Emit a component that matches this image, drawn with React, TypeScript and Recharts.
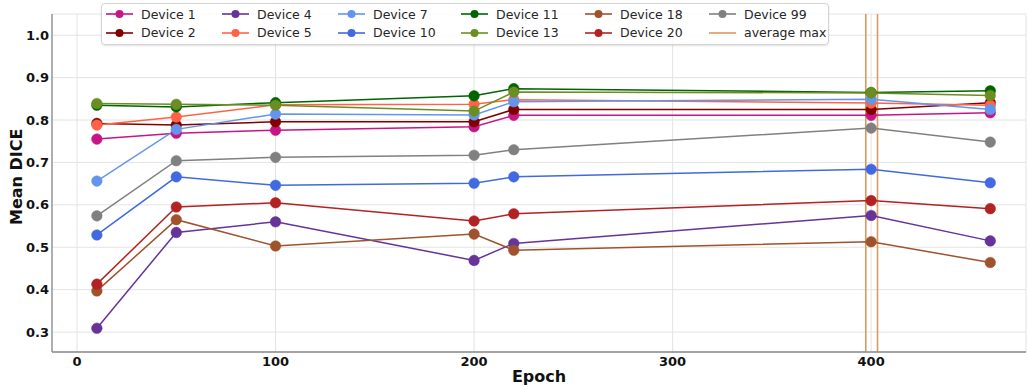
import React from "react";
import { LineChart, Line, XAxis, YAxis, CartesianGrid, ReferenceLine, Legend } from "recharts";

// epochs at which each device was evaluated
const epochs = [10, 50, 100, 200, 220, 400, 460];

const device1 = [0.755, 0.769, 0.776, 0.784, 0.811, 0.811, 0.817];
const device2 = [0.792, 0.788, 0.796, 0.796, 0.825, 0.825, 0.841];
const device4 = [0.309, 0.535, 0.560, 0.469, 0.509, 0.575, 0.515];
const device5 = [0.788, 0.807, 0.836, 0.837, 0.848, 0.840, 0.835];
const device7 = [0.656, 0.778, 0.814, 0.812, 0.843, 0.849, 0.825];
const device10 = [0.529, 0.666, 0.646, 0.651, 0.666, 0.684, 0.652];
const device11 = [0.835, 0.831, 0.841, 0.857, 0.874, 0.865, 0.869];
const device13 = [0.839, 0.837, 0.835, 0.821, 0.866, 0.864, 0.858];
const device18 = [0.397, 0.565, 0.503, 0.531, 0.493, 0.513, 0.464];
const device20 = [0.413, 0.595, 0.605, 0.562, 0.579, 0.610, 0.591];
const device99 = [0.574, 0.704, 0.712, 0.717, 0.730, 0.781, 0.748];

// two vertical markers for the average max epoch
const averageMax = [397.3, 403.2];

const xTicks = [0, 100, 200, 300, 400];
const yTicks = [0.3, 0.4, 0.5, 0.6, 0.7, 0.8, 0.9, 1.0];

const series = [
  { key: "Device 1", values: device1, color: "#C71585" },
  { key: "Device 2", values: device2, color: "#800000" },
  { key: "Device 4", values: device4, color: "#663399" },
  { key: "Device 5", values: device5, color: "#FF6347" },
  { key: "Device 7", values: device7, color: "#6495ED" },
  { key: "Device 10", values: device10, color: "#4169E1" },
  { key: "Device 11", values: device11, color: "#006400" },
  { key: "Device 13", values: device13, color: "#6B8E23" },
  { key: "Device 18", values: device18, color: "#A0522D" },
  { key: "Device 20", values: device20, color: "#B22222" },
  { key: "Device 99", values: device99, color: "#808080" },
];

const avgColor = "#D99A5E";
const spineColor = "#8a8a8a";
const font = "'DejaVu Sans', sans-serif";

const data = epochs.map((epoch, i) => {
  const row: any = { epoch };
  series.forEach((s) => {
    row[s.key] = s.values[i];
  });
  return row;
});

const tickStyle = { fontSize: 13, fontWeight: "bold", fill: "#111", fontFamily: font };

const renderLegend = () => {
  const items = [
    ...series.map((s) => ({ label: s.key, color: s.color, dot: true })),
    { label: "average max", color: avgColor, dot: false },
  ];
  return (
    <div
      style={{
        display: "grid",
        gridTemplateRows: "18px 19px",
        gridAutoFlow: "column",
        gridTemplateColumns: "116px 116px 123px 124px 124px 120px",
        padding: "1px 0 2px 3px",
        background: "rgba(255,255,255,0.85)",
        border: "1px solid #d4d4d4",
        borderRadius: 4,
        boxShadow: "0 1px 2px rgba(0,0,0,0.12)",
        fontFamily: font,
        fontSize: 12.5,
        color: "#262626",
      }}
    >
      {items.map((it) => (
        <div key={it.label} style={{ display: "flex", alignItems: "center", whiteSpace: "nowrap" }}>
          <svg width={36} height={12} style={{ flex: "none" }}>
            <line x1={1} y1={6} x2={28} y2={6} stroke={it.color} strokeWidth={1.6} />
            {it.dot && <circle cx={14.5} cy={6} r={4} fill={it.color} />}
          </svg>
          <span>{it.label}</span>
        </div>
      ))}
    </div>
  );
};

export default function App() {
  return (
    <div style={{ position: "absolute", left: 0, top: 0, width: 1027, height: 387, background: "#fff" }}>
      <LineChart
        width={1027}
        height={387}
        data={data}
        margin={{ top: 14, right: 1, bottom: 0, left: 0 }}
      >
        <CartesianGrid stroke="#e3e3e3" strokeWidth={1} />
        <XAxis
          dataKey="epoch"
          type="number"
          domain={[-12.6, 478]}
          ticks={xTicks}
          allowDataOverflow={true}
          height={35}
          tickLine={false}
          tickSize={2}
          tickMargin={3}
          axisLine={{ stroke: spineColor, strokeWidth: 1.3 }}
          tick={tickStyle}
          label={{
            value: "Epoch",
            position: "insideBottom",
            offset: 5,
            style: { fontSize: 16, fontWeight: "bold", fill: "#111", fontFamily: font },
          }}
        />
        <XAxis
          xAxisId="top"
          orientation="top"
          dataKey="epoch"
          type="number"
          domain={[-12.6, 478]}
          height={0}
          tick={false}
          tickLine={false}
          axisLine={{ stroke: spineColor, strokeWidth: 1.3 }}
        />
        <YAxis
          type="number"
          domain={[0.253, 1.05]}
          ticks={yTicks}
          allowDataOverflow={true}
          width={52}
          tickLine={false}
          tickSize={1}
          tickMargin={2}
          axisLine={{ stroke: spineColor, strokeWidth: 1.3 }}
          tick={tickStyle}
          tickFormatter={(v: number) => v.toFixed(1)}
          label={{
            value: "Mean DICE",
            angle: -90,
            position: "insideLeft",
            offset: 16,
            dy: 42,
            style: { fontSize: 16, fontWeight: "bold", fill: "#111", fontFamily: font },
          }}
        />
        <YAxis
          yAxisId="right"
          orientation="right"
          type="number"
          domain={[0.253, 1.05]}
          width={0}
          tick={false}
          tickLine={false}
          axisLine={{ stroke: spineColor, strokeWidth: 1.3 }}
        />
        {averageMax.map((x) => (
          <ReferenceLine key={x} x={x} stroke={avgColor} strokeWidth={1.6} />
        ))}
        {series.map((s) => (
          <Line
            key={s.key}
            type="linear"
            dataKey={s.key}
            stroke={s.color}
            strokeWidth={1.5}
            dot={{ r: 5.3, fill: s.color, stroke: s.color, strokeWidth: 0.5 }}
            activeDot={false}
            isAnimationActive={false}
          />
        ))}
        <Legend
          layout="horizontal"
          verticalAlign="middle"
          content={renderLegend}
          wrapperStyle={{ top: 3, left: 101, width: "auto", height: "auto" }}
        />
      </LineChart>
    </div>
  );
}
